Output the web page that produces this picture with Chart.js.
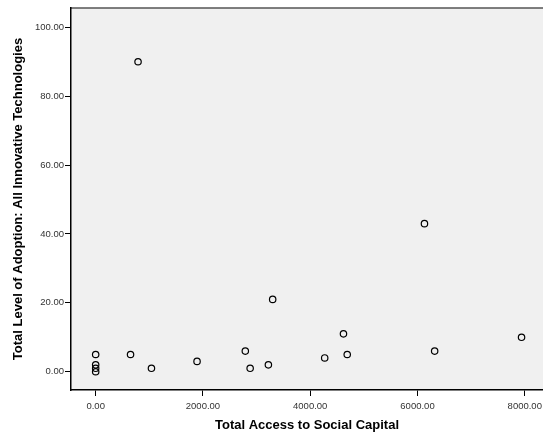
<!DOCTYPE html>
<html>
<head>
<meta charset="utf-8">
<script src="https://cdn.jsdelivr.net/npm/chart.js@4/dist/chart.umd.min.js"></script>
<style>
  html, body { margin: 0; padding: 0; background: #ffffff; }
  #wrap { width: 543px; height: 437px; }
</style>
</head>
<body>
<div id="wrap"><canvas id="c" width="543" height="437"></canvas></div>
<script>
// Social capital access vs. adoption of innovative technologies
const accessToSocialCapital = [0, 0, 0, 0, 650, 790, 1040, 1890, 2790, 2880, 3220, 3300, 4270, 4620, 4690, 6130, 6320, 7940];
const adoptionLevel        = [5, 2, 1, 0, 5,   90,  1,    3,    6,    1,    2,    21,   4,    11,   5,    43,   6,    10];
const xTickValues = [0, 2000, 4000, 6000, 8000];
const yTickValues = [0, 20, 40, 60, 80, 100];

const points = accessToSocialCapital.map((x, i) => ({ x: x, y: adoptionLevel[i] }));

const fixedTicks = (values) => (scale) => {
  scale.ticks = values.map(v => ({ value: v }));
};

// Shaded plot area with a thin frame on top
const plotFrame = {
  id: 'plotFrame',
  beforeDraw(chart) {
    const { ctx, chartArea: a } = chart;
    ctx.save();
    ctx.fillStyle = '#f0f0f0';
    ctx.fillRect(a.left, a.top, a.right - a.left, a.bottom - a.top);
    ctx.strokeStyle = '#555555';
    ctx.lineWidth = 1.5;
    ctx.beginPath();
    ctx.moveTo(a.left, a.top);
    ctx.lineTo(a.right, a.top);
    ctx.stroke();
    ctx.restore();
  }
};

const tickFont = { family: 'Arial, "Liberation Sans", sans-serif', size: 9.5 };
const titleFont = { family: 'Arial, "Liberation Sans", sans-serif', size: 13, weight: 'bold' };

new Chart(document.getElementById('c'), {
  type: 'scatter',
  data: {
    datasets: [{
      data: points,
      pointStyle: 'circle',
      pointRadius: 3.2,
      pointBorderWidth: 1.2,
      pointBorderColor: '#000000',
      pointBackgroundColor: 'rgba(0,0,0,0)',
      pointHoverRadius: 3.2
    }]
  },
  options: {
    responsive: false,
    animation: false,
    layout: { autoPadding: false, padding: { top: 8, right: 0, left: 0, bottom: 0 } },
    plugins: {
      legend: { display: false },
      tooltip: { enabled: false }
    },
    scales: {
      x: {
        type: 'linear',
        min: -460,
        max: 8340,
        afterBuildTicks: fixedTicks(xTickValues),
        afterFit(scale) { scale.height = 47; scale.paddingLeft = 0; scale.paddingRight = 0; },
        grid: { drawOnChartArea: false, drawTicks: true, tickLength: 6, tickWidth: 1, tickColor: '#000000' },
        border: { display: true, color: '#000000', width: 1.5 },
        ticks: {
          color: '#333333',
          font: tickFont,
          padding: 5,
          maxRotation: 0,
          autoSkip: false,
          callback: (v) => Number(v).toFixed(2)
        },
        title: {
          display: true,
          text: 'Total Access to Social Capital',
          color: '#000000',
          font: titleFont,
          padding: { top: 4, bottom: 4 }
        }
      },
      y: {
        type: 'linear',
        min: -5.3,
        max: 105.6,
        afterBuildTicks: fixedTicks(yTickValues),
        afterFit(scale) { scale.width = 71; scale.paddingTop = 0; scale.paddingBottom = 0; },
        grid: { drawOnChartArea: false, drawTicks: true, tickLength: 6, tickWidth: 1, tickColor: '#000000' },
        border: { display: true, color: '#000000', width: 1.5 },
        ticks: {
          color: '#333333',
          font: tickFont,
          padding: 1,
          autoSkip: false,
          callback: (v) => Number(v).toFixed(2)
        },
        title: {
          display: true,
          text: 'Total Level of Adoption: All Innovative Technologies',
          color: '#000000',
          font: titleFont,
          padding: { top: 11, bottom: 2 }
        }
      }
    }
  },
  plugins: [plotFrame]
});
</script>
</body>
</html>
